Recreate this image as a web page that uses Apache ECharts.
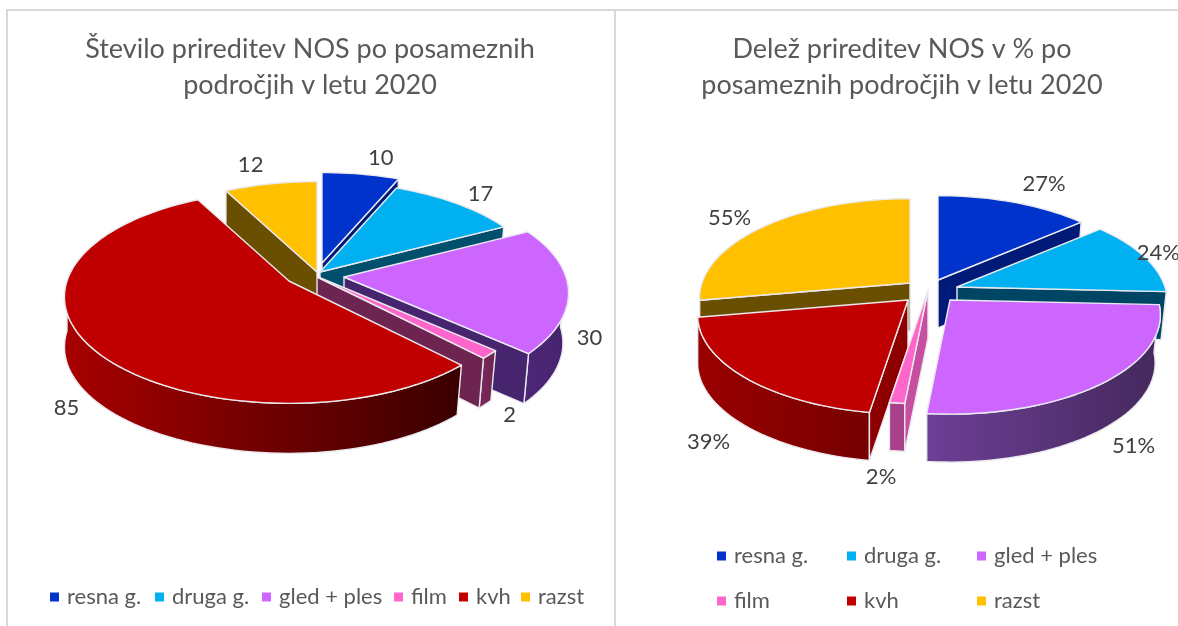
<!DOCTYPE html>
<html><head><meta charset="utf-8">
<style>html,body{margin:0;padding:0;background:#fff}#c{width:1178px;height:626px}</style>
<script src="https://cdn.jsdelivr.net/npm/echarts@6/dist/echarts.min.js"></script>
</head><body><div id="c"></div>
<script>
const categories = ['resna g.', 'druga g.', 'gled + ples', 'film', 'kvh', 'razst'];
const countValues = [10, 17, 30, 2, 85, 12];
const shareValues = [27, 24, 51, 2, 39, 55];
const colors = ['#0033cc', '#00b0f0', '#cc66ff', '#ff66cc', '#c00000', '#ffc000'];
const FONT = 'Lato, "Open Sans", sans-serif';

const pies = [
  { values: countValues, suffix: '', rx: 222, ry: 104, k: 0.15, depth: 50,
    apex: [[322,263],[320,272],[344,277],[311,274],[289,281],[317,272]],
    labelOffset: [[20,-16],[25,-9],[21,48],[20,61],[-25,60],[-20,-19]],
    order: [0,1,2,3,5,4],
    face: ['#001a78','#004f6c','#46246e','#6e2450','#700000','#6b4f00'],
    wall: [['#00228c','#001560'],['#006a90','#004058'],['#4c2678','#46246e'],['#7a2a5c','#6e2450'],['#a80000','#3a0000'],['#7a5a00','#5a4200']] },
  { values: shareValues, suffix: '%', rx: 208, ry: 97, k: 0.15, depth: 48,
    apex: [[938,280],[957,287],[950,300],[928,290],[908,300],[910,283]],
    labelOffset: [[30,-18],[14,-4],[30,63],[-16,74],[-36,64],[-35,-8]],
    order: [0,1,5,2,4,3],
    face: ['#001a78','#004664','#46246e','#c64fa2','#8e0000','#6b4f00'],
    wall: [['#00228c','#001560'],['#005a7c','#003f58'],['#6e3f96','#44285c'],['#a8408c','#a8408c'],['#9a0000','#760000'],['#7a5a00','#5a4200']] }
];
const EDGE = '#e9e9ee', D2R = Math.PI / 180;

function makeRender(pie, idx, rank) {
  return function (params, api) {
    const total = pie.values.reduce((a, b) => a + b, 0);
    let before = 0;
    for (let i = 0; i < idx; i++) before += pie.values[i];
    const a0 = before / total * 360, a1 = (before + api.value(0)) / total * 360;
    const [cx, cy] = pie.apex[idx];
    const proj = (deg, down) => {
      const X = Math.sin(deg * D2R), Z = Math.cos(deg * D2R), s = 1 / (1 + pie.k * Z);
      return [cx + pie.rx * X * s * (down && X > 0 ? 0.975 : 1), cy - pie.ry * Z * s + (down ? pie.depth : 0)];
    };
    const arc = (from, to, down) => {
      const pts = [], n = Math.max(2, Math.ceil(Math.abs(to - from) / 2));
      for (let i = 0; i <= n; i++) pts.push(proj(from + (to - from) * i / n, down));
      return pts;
    };
    const poly = (points, fill, z2) => ({
      type: 'polygon', z2: z2, shape: { points: points },
      style: { fill: fill, stroke: EDGE, lineWidth: 1.4, lineJoin: 'round' }
    });
    const base = rank * 10 + 1;
    const children = [];
    const wa = Math.max(a0, 90), wb = Math.min(a1, 270);
    if (wb > wa) {
      const [c0, c1] = pie.wall[idx];
      const grad = { type: 'linear', x: 0, y: 0, x2: 1, y2: 0,
        colorStops: [{ offset: 0, color: c0 }, { offset: 1, color: c1 }] };
      children.push(poly(arc(wa, wb, false).concat(arc(wb, wa, true)), grad, base));
    }
    const apexDown = [cx, cy + pie.depth];
    if (Math.sin(a0 * D2R) < -1e-6)
      children.push(poly([[cx, cy], proj(a0, false), proj(a0, true), apexDown], pie.face[idx], base + 1));
    if (Math.sin(a1 * D2R) > 1e-6)
      children.push(poly([[cx, cy], proj(a1, false), proj(a1, true), apexDown], pie.face[idx], base + 1));
    children.push(poly([[cx, cy]].concat(arc(a0, a1, false)), colors[idx], base + 2));
    const mid = proj((a0 + a1) / 2, false);
    children.push({
      type: 'text', z2: 1000,
      style: { x: mid[0] + pie.labelOffset[idx][0], y: mid[1] + pie.labelOffset[idx][1],
        text: api.value(0) + pie.suffix, fill: '#404040', font: '22px ' + FONT, align: 'center', verticalAlign: 'middle' }
    });
    return { type: 'group', children: children };
  };
}

const series = [];
pies.forEach(pie => {
  pie.order.forEach((idx, rank) => {
    series.push({
      type: 'custom', name: categories[idx], coordinateSystem: 'none', silent: true,
      animation: false, itemStyle: { color: colors[idx] },
      data: [[pie.values[idx]]], renderItem: makeRender(pie, idx, rank)
    });
  });
});

const leftLegendX = [50, 155, 262, 394, 459, 521];
const rightLegendX = [717, 847, 977, 717, 847, 977];
const rightLegendY = [545, 545, 545, 590, 590, 590];
const legendOf = (name, left, top, size) => ({
  left: left, top: top, data: [name], icon: 'rect', itemWidth: 9, itemHeight: 9, itemGap: 0,
  padding: 0, selectedMode: false,
  textStyle: { color: '#595959', fontFamily: FONT, fontSize: size, padding: [0, 0, 0, 3] }
});
const legends = [];
categories.forEach((c, i) => {
  legends.push(legendOf(c, leftLegendX[i], 586, 22));
  legends.push(legendOf(c, rightLegendX[i], rightLegendY[i], 22));
});

const chart = echarts.init(document.getElementById('c'), null, { renderer: 'canvas' });
const titleStyle = { color: '#595959', fontFamily: FONT, fontSize: 27, fontWeight: 'normal', lineHeight: 36 };
chart.setOption({
  backgroundColor: '#fff',
  animation: false,
  title: [
    { text: 'Število prireditev NOS po posameznih\npodročjih v letu 2020', left: 310, top: 31, textAlign: 'center', padding: 0, textStyle: titleStyle },
    { text: 'Delež prireditev NOS v % po\nposameznih področjih v letu 2020', left: 902, top: 31, textAlign: 'center', padding: 0, textStyle: titleStyle }
  ],
  legend: legends,
  graphic: [
    { type: 'rect', silent: true, shape: { x: 7, y: 10, width: 608, height: 640 }, style: { fill: 'none', stroke: '#d9d9d9', lineWidth: 2 } },
    { type: 'line', silent: true, shape: { x1: 615, y1: 10, x2: 1178, y2: 10 }, style: { stroke: '#d9d9d9', lineWidth: 2 } }
  ],
  series: series
});
</script></body></html>
